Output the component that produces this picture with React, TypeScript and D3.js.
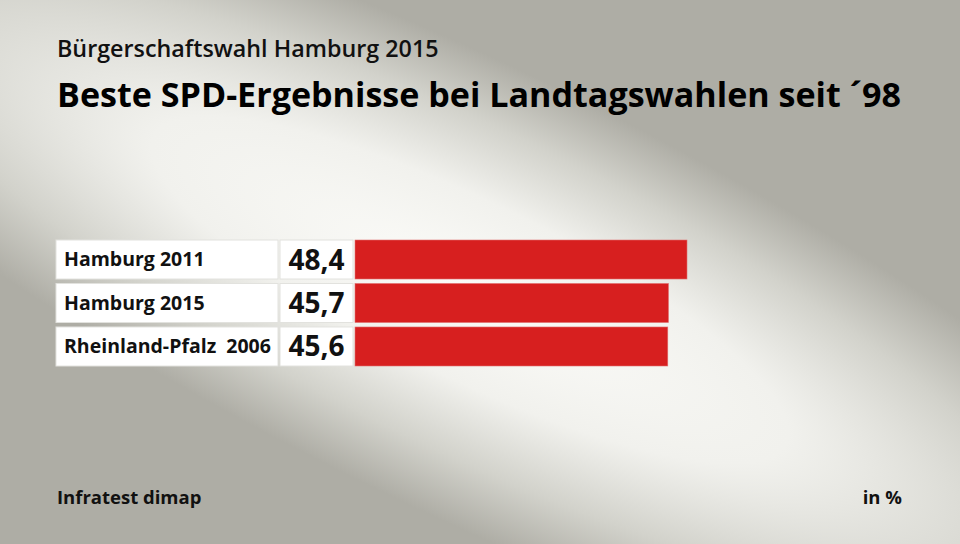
import React from "react";
import * as d3 from "d3";

const categories = ["Hamburg 2011", "Hamburg 2015", "Rheinland-Pfalz  2006"];
const values = [48.4, 45.7, 45.6];
const valueLabels = ["48,4", "45,7", "45,6"];

const W = 960;
const H = 544;
const FONT = "'Open Sans', sans-serif";

export default function App() {
  const x = d3.scaleLinear().domain([0, 48.4]).range([355, 687]);
  const y = d3.scaleBand<number>().domain(d3.range(categories.length)).range([240, 366]).paddingInner(0.103).paddingOuter(0);
  const bh = y.bandwidth();
  return (
    <svg width={W} height={H} style={{ position: "absolute", left: 0, top: 0 }}>
      <defs>
        <radialGradient id="bg" gradientUnits="userSpaceOnUse" cx={0} cy={0} r={1}
          gradientTransform="translate(470,290) rotate(26) scale(880,220)">
          <stop offset="0" stopColor="#fbfbf8" />
          <stop offset="0.4" stopColor="#f1f1ed" />
          <stop offset="0.72" stopColor="#d2d2cb" />
          <stop offset="1" stopColor="#aeada5" />
        </radialGradient>
      </defs>
      <rect x={0} y={0} width={W} height={H} fill="url(#bg)" />
      <text x={57} y={57} fontFamily={FONT} fontWeight={600} fontSize={23.3} fill="#111">Bürgerschaftswahl Hamburg 2015</text>
      <text x={57} y={107} fontFamily={FONT} fontWeight={700} fontSize={34.1} fill="#000">Beste SPD-Ergebnisse bei Landtagswahlen seit ´98</text>
      {categories.map((c, i) => {
        const yy = y(i) as number;
        return (
          <g key={c}>
            <rect x={56} y={yy} width={222} height={bh} fill="#fff" stroke="#e2e2de" strokeWidth={1} />
            <rect x={280} y={yy} width={73} height={bh} fill="#fff" stroke="#e2e2de" strokeWidth={1} />
            <rect x={x(0)} y={yy} width={x(values[i]) - x(0)} height={bh} fill="#d71f1f" stroke="#e07070" strokeWidth={0.6} />
            <text x={64} y={yy + bh / 2 + 6.5} fontFamily={FONT} fontWeight={700} fontSize={19.5} fill="#111" style={{ whiteSpace: "pre" }}>{c}</text>
            <text x={316.5} y={yy + bh / 2 + 10} textAnchor="middle" fontFamily={FONT} fontWeight={700} fontSize={28} fill="#111">{valueLabels[i]}</text>
          </g>
        );
      })}
      <text x={57} y={504} fontFamily={FONT} fontWeight={700} fontSize={18.5} fill="#111">Infratest dimap</text>
      <text x={902} y={504} textAnchor="end" fontFamily={FONT} fontWeight={700} fontSize={18.5} fill="#111">in %</text>
    </svg>
  );
}
